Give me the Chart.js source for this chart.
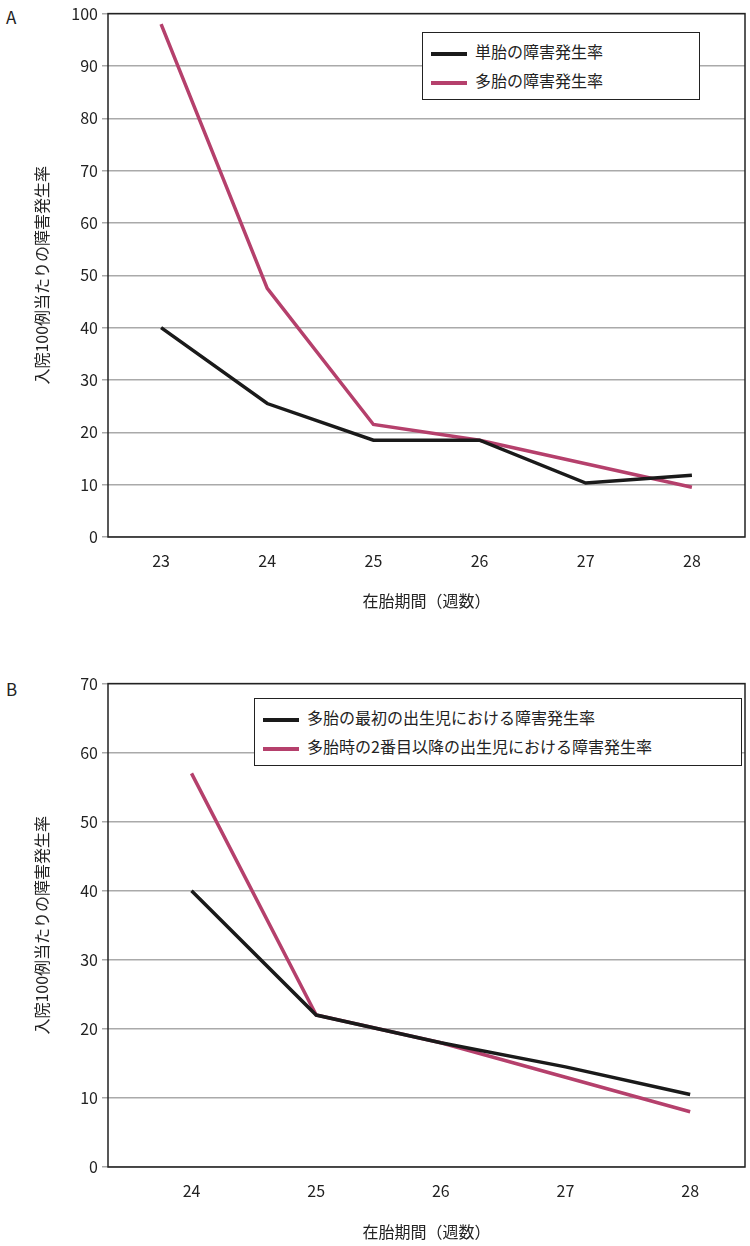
<!DOCTYPE html>
<html><head><meta charset="utf-8">
<script src="https://cdn.jsdelivr.net/npm/chart.js@4"></script>
<style>
body{margin:0;background:#fff;font-family:"Noto Sans CJK JP","Noto Sans",sans-serif;color:#222}
.wrap{position:absolute;left:0;width:750px}
.tag{position:absolute;font-size:17px}
.leg{position:absolute;background:#fff;border:1.5px solid #222;font-size:16px;padding:4px 8px;line-height:29px}
.leg span.l{display:inline-block;width:36px;height:4px;vertical-align:middle;margin-right:8px}
</style></head><body>
<div class="tag" style="left:6px;top:4px">A</div>
<div class="wrap" style="top:0;height:615px"><canvas id="chartA"></canvas></div>
<div class="leg" style="left:422px;top:32px;width:260px"><div><span class="l" style="background:#1a1a1a"></span>単胎の障害発生率</div><div><span class="l" style="background:#b5406c"></span>多胎の障害発生率</div></div>
<div class="tag" style="left:6px;top:676px">B</div>
<div class="wrap" style="top:670px;height:576px"><canvas id="chartB"></canvas></div>
<div class="leg" style="left:254px;top:698px;width:470px"><div><span class="l" style="background:#1a1a1a"></span>多胎の最初の出生児における障害発生率</div><div><span class="l" style="background:#b5406c"></span>多胎時の2番目以降の出生児における障害発生率</div></div>
<script>
const weeksA = ['23', '24', '25', '26', '27', '28']
const singleA = [40, 25.5, 18.5, 18.5, 10.3, 11.8]
const multiA = [98, 47.5, 21.5, 18.5, 14, 9.5]

const weeksB = [24, 25, 26, 27, 28]
const firstB = [40, 22, 18, 14.5, 10.5]
const laterB = [57, 22, 18, 13, 8]

const yTitle = '入院100例当たりの障害発生率'
const xTitle = '在胎期間（週数）'
const black = '#1a1a1a'
const pink = '#b5406c'
const font = { family: '"Noto Sans CJK JP", "Noto Sans", sans-serif', size: 16 }

function frame (id) {
  return {
    id: 'frame' + id,
    afterDraw (c) {
      const a = c.chartArea
      c.ctx.save()
      c.ctx.strokeStyle = '#222'
      c.ctx.lineWidth = 1.5
      c.ctx.strokeRect(a.left, a.top, a.right - a.left, a.bottom - a.top)
      c.ctx.restore()
    }
  }
}

function yAxis (max) {
  return {
    min: 0,
    max: max,
    ticks: { stepSize: 10, color: '#222', font: font, padding: 4 },
    grid: { color: '#aaa', drawTicks: true, tickLength: 6, lineWidth: 1.5 },
    border: { display: false },
    title: { display: true, text: yTitle, color: '#222', font: font },
    afterFit (s) { s.width = 80 }
  }
}

function base (xScale, ymax, top, xh) {
  return {
    responsive: true,
    maintainAspectRatio: false,
    animation: false,
    layout: { padding: { top: top, right: 5, left: 28, bottom: 0 } },
    plugins: { legend: { display: false }, tooltip: { enabled: false } },
    elements: { point: { radius: 0 }, line: { borderWidth: 3.5, tension: 0 } },
    scales: {
      x: Object.assign(xScale, {
        grid: { display: false },
        border: { display: false },
        title: { display: true, text: xTitle, color: '#222', font: font, padding: { top: 12 } },
        afterFit (s) { s.height = xh }
      }),
      y: yAxis(ymax)
    }
  }
}

new Chart(document.getElementById('chartA'), {
  type: 'line',
  data: {
    labels: weeksA,
    datasets: [
      { data: singleA, borderColor: black },
      { data: multiA, borderColor: pink }
    ]
  },
  options: base({ offset: true, ticks: { color: '#222', font: font, padding: 6 } }, 100, 12, 78),
  plugins: [frame('A')]
})

new Chart(document.getElementById('chartB'), {
  type: 'line',
  data: {
    datasets: [
      { data: weeksB.map((w, i) => ({ x: w, y: firstB[i] })), borderColor: black },
      { data: weeksB.map((w, i) => ({ x: w, y: laterB[i] })), borderColor: pink }
    ]
  },
  options: base({ type: 'linear', min: 23.33, max: 28.44, afterBuildTicks (s) { s.ticks = weeksB.map(v => ({ value: v })) }, ticks: { color: '#222', font: font, padding: 6 } }, 70, 13, 79),
  plugins: [frame('B')]
})
</script>
</body></html>
